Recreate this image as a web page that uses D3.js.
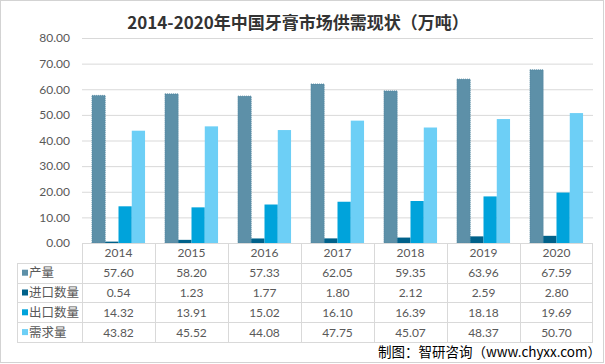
<!DOCTYPE html>
<html><head><meta charset="utf-8">
<script src="https://cdn.jsdelivr.net/npm/d3@7"></script>
<style>body{margin:0;background:#fff}svg{display:block}</style>
</head><body><svg id="c" width="605" height="364"></svg>
<script>
const years = ["2014","2015","2016","2017","2018","2019","2020"];
const seriesNames = ["产量","进口数量","出口数量","需求量"];
const production = [57.60,58.20,57.33,62.05,59.35,63.96,67.59];
const imports = [0.54,1.23,1.77,1.80,2.12,2.59,2.80];
const exportsV = [14.32,13.91,15.02,16.10,16.39,18.18,19.69];
const demand = [43.82,45.52,44.08,47.75,45.07,48.37,50.70];
const yTicks = [0,10,20,30,40,50,60,70,80];
const colors = ["#5d90a8","#00618a","#00a3db","#6dcff6"];
const title = "2014-2020年中国牙膏市场供需现状（万吨）";
const source = "制图：智研咨询（www.chyxx.com）";

const values = [production, imports, exportsV, demand];
const svg = d3.select("#c");
const font = "Lato, 'Noto Sans CJK SC', sans-serif";

// outer border
svg.append("rect").attr("x",0.5).attr("y",0.5).attr("width",603).attr("height",362)
  .attr("fill","none").attr("stroke","#a6a6a6").attr("stroke-dasharray","1,1");

const x = d3.scaleBand().domain(years).range([82,593]).padding(0);
const xi = d3.scaleBand().domain(seriesNames).range([0,x.bandwidth()]).paddingInner(0).paddingOuter(0.75);
const y = d3.scaleLinear().domain([0,80]).range([243,38]);

// gridlines
svg.append("g").selectAll("line").data(yTicks.slice(1)).join("line")
  .attr("x1",82).attr("x2",593).attr("y1",d=>y(d)+0.5).attr("y2",d=>y(d)+0.5)
  .attr("stroke","#d9d9d9").attr("stroke-width",1);

// y axis labels
const yAxis = d3.axisLeft(y).tickValues(yTicks).tickFormat(d3.format(".2f")).tickSize(0).tickPadding(0);
const ga = svg.append("g").attr("transform","translate(70,0)").call(yAxis);
ga.select(".domain").remove();
ga.selectAll("text").attr("fill","#595959").style("font-family",font).style("font-size","12px");

// bars
seriesNames.forEach((s,si)=>{
  svg.append("g").selectAll("rect").data(years).join("rect")
    .attr("x",d=>x(d)+xi(s))
    .attr("y",(d,i)=>y(values[si][i]))
    .attr("width",xi.bandwidth())
    .attr("height",(d,i)=>y(0)-y(values[si][i]))
    .attr("fill",colors[si])
    .attr("stroke", si===0 ? "#4f849e" : "none")
    .attr("stroke-dasharray", si===0 ? "1,1" : null)
    .attr("stroke-width",0.8);
});

// table
const rowTop = 243, rowH = 19.8;
const tg = svg.append("g");
const lineC = "#d9d9d9";
// horizontal lines
tg.append("line").attr("x1",82).attr("x2",593).attr("y1",rowTop+0.5).attr("y2",rowTop+0.5).attr("stroke",lineC);
for(let r=1;r<=5;r++){
  const yy = Math.round(rowTop + r*rowH)+0.5;
  tg.append("line").attr("x1",17).attr("x2",593).attr("y1",yy).attr("y2",yy).attr("stroke",lineC);
}
// vertical lines
years.forEach(yr=>{
  tg.append("line").attr("x1",Math.round(x(yr))+0.5).attr("x2",Math.round(x(yr))+0.5)
    .attr("y1",rowTop).attr("y2",Math.round(rowTop+5*rowH)+0.5).attr("stroke",lineC);
});
tg.append("line").attr("x1",592.5).attr("x2",592.5).attr("y1",rowTop).attr("y2",Math.round(rowTop+5*rowH)+0.5).attr("stroke",lineC);
tg.append("line").attr("x1",17.5).attr("x2",17.5).attr("y1",Math.round(rowTop+rowH)).attr("y2",Math.round(rowTop+5*rowH)+0.5).attr("stroke",lineC);

// year labels
tg.selectAll("text.yr").data(years).join("text").attr("class","yr")
  .attr("x",d=>x(d)+x.bandwidth()/2).attr("y",rowTop+rowH/2+4.5)
  .attr("text-anchor","middle").attr("fill","#595959")
  .style("font-family",font).style("font-size","12px").text(d=>d);

seriesNames.forEach((s,si)=>{
  const cy = rowTop + (si+1)*rowH + rowH/2;
  tg.append("rect").attr("x",22).attr("y",cy-3).attr("width",6).attr("height",6).attr("fill",colors[si]);
  tg.append("text").attr("x",29).attr("y",cy+4.5).attr("fill","#595959")
    .style("font-family",font).style("font-size","12.5px").text(s);
  tg.append("g").selectAll("text").data(years).join("text")
    .attr("x",d=>x(d)+x.bandwidth()/2).attr("y",cy+4.5)
    .attr("text-anchor","middle").attr("fill","#595959")
    .style("font-family",font).style("font-size","12px")
    .text((d,i)=>d3.format(".2f")(values[si][i]));
});

// title
svg.append("text").attr("x",298).attr("y",29).attr("text-anchor","middle")
  .attr("fill","#333333").style("font-family","'Noto Sans CJK SC', sans-serif")
  .style("font-weight","bold").style("font-size","17px").text(title);

// source
svg.append("text").attr("x",601).attr("y",357).attr("text-anchor","end")
  .attr("fill","#000").style("font-family","'Noto Sans CJK SC', sans-serif")
  .style("font-size","13.5px").text(source);
</script></body></html>
